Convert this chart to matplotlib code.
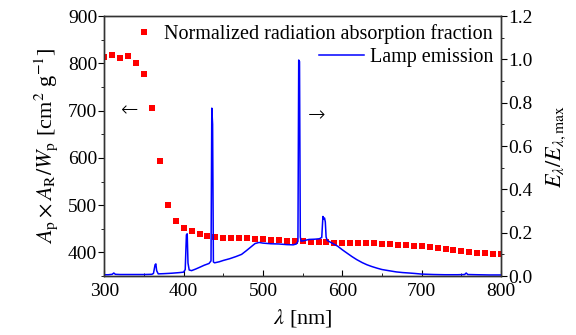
import matplotlib
matplotlib.use("Agg")
import matplotlib.pyplot as plt
from matplotlib.ticker import MultipleLocator

plt.rcParams['font.family'] = ['Liberation Serif', 'DejaVu Serif']
plt.rcParams['mathtext.fontset'] = 'stix'

# normalized radiation absorption fraction (left axis), every 10 nm
abs_wl = list(range(300, 801, 10))
abs_val = [813, 817, 811, 815, 800, 777, 706, 593, 500, 466,
           451, 445, 440, 435, 432, 431, 431, 430, 430, 429,
           428, 427, 426, 425, 425, 424, 423, 422, 421, 420,
           419, 419, 419, 419, 419, 418, 417, 416, 415, 414,
           413, 411, 409, 407, 405, 403, 401, 399, 398, 397, 396]

# lamp emission spectrum (right axis)
lamp_wl = [300, 305, 310, 312, 314, 320, 330, 340, 350, 360, 362, 364, 365, 366, 368,
           375, 385, 395, 400, 402, 403.5, 404.5, 405.5, 407, 410, 415, 420, 426, 432,
           434.5, 435.5, 436.5, 437.5, 439, 445, 450, 458, 466, 473, 479, 485, 490,
           495, 500, 510, 520, 530, 538, 542, 544, 545, 546, 547, 548, 551, 558, 565,
           571, 574, 575.5, 576.5, 577.5, 578.5, 579.5, 581, 587, 594, 600, 605, 612,
           618, 625, 631, 637, 644, 650, 658, 668, 676, 684, 691, 700, 715, 729,
           745, 754, 756, 758, 770, 785, 800]
lamp_val = [0.006, 0.006, 0.008, 0.014, 0.008, 0.007, 0.007, 0.007, 0.007, 0.008, 0.012, 0.052,
            0.056, 0.025, 0.010, 0.011, 0.013, 0.016, 0.018, 0.030, 0.190, 0.195, 0.060, 0.028,
            0.025, 0.032, 0.040, 0.050, 0.058, 0.070, 0.775, 0.700, 0.065, 0.061, 0.066, 0.072,
            0.080, 0.090, 0.100, 0.117, 0.135, 0.150, 0.155, 0.152, 0.149, 0.148, 0.145, 0.144,
            0.148, 0.160, 0.997, 0.990, 0.180, 0.161, 0.163, 0.169, 0.170, 0.172, 0.178, 0.275,
            0.262, 0.268, 0.250, 0.180, 0.164, 0.152, 0.138, 0.121, 0.108, 0.090, 0.076, 0.062,
            0.052, 0.044, 0.036, 0.030, 0.025, 0.019, 0.016, 0.014, 0.012, 0.009, 0.007, 0.006,
            0.006, 0.007, 0.014, 0.007, 0.006, 0.005, 0.005]

fig = plt.figure(figsize=(5.76, 3.35), dpi=100)
ax = fig.add_axes([0.181, 0.176, 0.689, 0.776])
ax2 = ax.twinx()

ax.plot(abs_wl, abs_val, 's', color='#ff0000', markersize=5, markeredgewidth=0,
        label='Normalized radiation absorption fraction')
ax2.plot(lamp_wl, lamp_val, '-', color='#0000ff', linewidth=1.1, label='Lamp emission')

ax.set_xlim(300, 800)
ax.set_ylim(350, 900)
ax2.set_ylim(0, 1.2)

ax.xaxis.set_major_locator(MultipleLocator(100))
ax.xaxis.set_minor_locator(MultipleLocator(50))
ax.yaxis.set_major_locator(MultipleLocator(100))
ax.yaxis.set_minor_locator(MultipleLocator(50))
ax2.yaxis.set_major_locator(MultipleLocator(0.2))
ax2.yaxis.set_minor_locator(MultipleLocator(0.1))
ax2.yaxis.set_major_formatter(matplotlib.ticker.FormatStrFormatter('%.1f'))

ax.tick_params(axis='x', which='both', direction='in', top=False, labelsize=14, pad=5)
ax.tick_params(axis='x', which='major', length=4)
ax.tick_params(axis='x', which='minor', length=2.5)
ax.tick_params(axis='y', which='both', direction='out', labelsize=14, pad=1)
ax.tick_params(axis='y', which='major', length=4)
ax.tick_params(axis='y', which='minor', length=2.5)
ax2.tick_params(axis='y', which='both', direction='out', labelsize=14, pad=1)
ax2.tick_params(axis='y', which='major', length=4)
ax2.tick_params(axis='y', which='minor', length=2.5)

for a in (ax, ax2):
    for s in a.spines.values():
        s.set_color('#333333')
        s.set_linewidth(1.0)

ax.set_xlabel(r'$\lambda$ [nm]', fontsize=16, labelpad=5)
ax.set_ylabel(r'$A_\mathrm{p}\times A_\mathrm{R}/W_\mathrm{p}$ [cm$^2$ g$^{-1}$]', fontsize=16, labelpad=6)
ax2.set_ylabel(r'$E_\lambda/E_{\lambda,\mathrm{max}}$', fontsize=16, labelpad=9)

ax.text(0.064, 0.638, '\u2190', transform=ax.transAxes, fontsize=15, ha='center', va='center',
        family=['DejaVu Sans'], fontweight='light')
ax2.text(0.536, 0.62, '\u2192', transform=ax.transAxes, fontsize=15, ha='center', va='center',
         family=['DejaVu Sans'], fontweight='light')

ax.legend(loc='upper right', bbox_to_anchor=(1.01, 1.015), frameon=False, fontsize=14.5,
          handletextpad=0.0, borderaxespad=0.2)
ax2.legend(loc='upper right', bbox_to_anchor=(1.01, 0.925), frameon=False, fontsize=14.5,
           handletextpad=0.3, handlelength=2.2, borderaxespad=0.2)

fig.savefig('out.png', dpi=100)
